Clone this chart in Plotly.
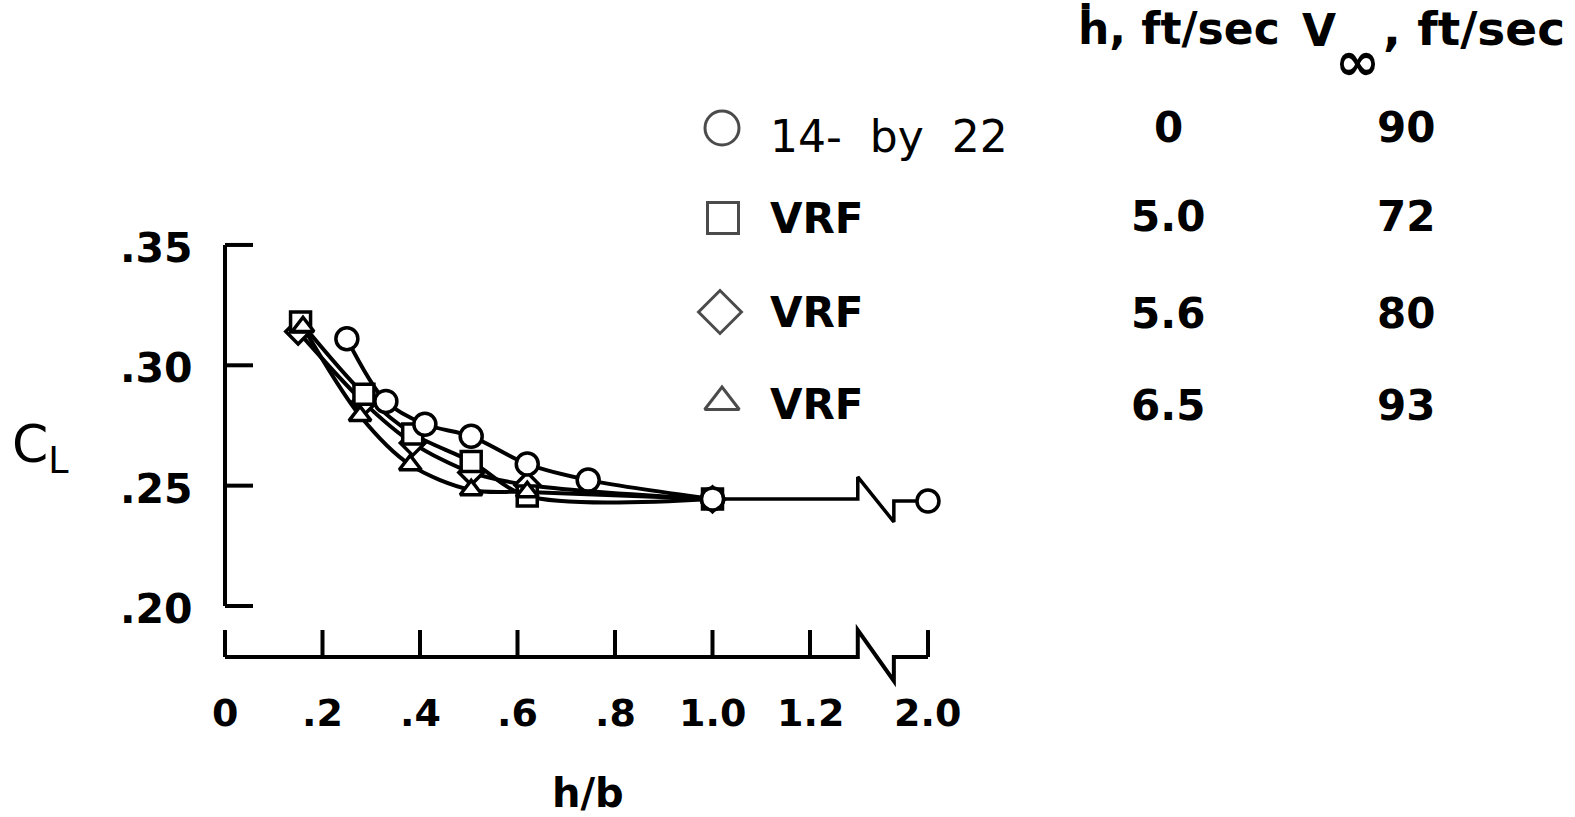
import plotly.graph_objects as go

W, H = 1575, 817

# ---- measured data: lift coefficient vs height/span ----
hb_circle = [0.25, 0.33, 0.41, 0.505, 0.62, 0.745, 1.0, 2.0]
cl_circle = [0.311, 0.285, 0.2755, 0.2705, 0.259, 0.2523, 0.2445, 0.2436]

hb_square = [0.155, 0.285, 0.385, 0.505, 0.62, 1.0]
cl_square = [0.318, 0.288, 0.2715, 0.260, 0.2457, 0.2445]

hb_diamond = [0.15, 0.285, 0.385, 0.505, 0.62, 1.0]
cl_diamond = [0.314, 0.2845, 0.2677, 0.2555, 0.2503, 0.2443]

hb_triangle = [0.16, 0.277, 0.38, 0.505, 0.62, 1.0]
cl_triangle = [0.316, 0.279, 0.2586, 0.2482, 0.2474, 0.2445]

# ---- axis ticks ----
x_ticks = [0, 0.2, 0.4, 0.6, 0.8, 1.0, 1.2, 2.0]
x_tick_text = ["0", ".2", ".4", ".6", ".8", "1.0", "1.2", "2.0"]
y_ticks = [0.20, 0.25, 0.30, 0.35]
y_tick_text = [".20", ".25", ".30", ".35"]

# ---- legend table ----
legend_names = ["14-&nbsp; by&nbsp; 22", "VRF", "VRF", "VRF"]
legend_hdot = ["0", "5.0", "5.6", "6.5"]
legend_vinf = ["90", "72", "80", "93"]
legend_symbols = ["circle", "square", "diamond", "triangle-up"]
legend_sizes = [34, 31, 33, 30]

# scale geometry (pixels per unit along each axis)
X0_PX, X_PER_UNIT = 225.0, 487.5
Y20_PX, Y_PER_UNIT = 606.0, 2407.0
U_TWO = 1.442                    # axis position where h/b = 2.0 is drawn
U_BRK0, U_BRK1 = 1.298, 1.372   # scale-break zig-zag span


def u(x):
    """Map h/b onto the broken horizontal axis."""
    return x if x <= 1.3 else U_TWO + (x - 2.0)


def px_to_y(py):
    return 0.20 + (Y20_PX - py) / Y_PER_UNIT


x_range = [(0 - X0_PX) / X_PER_UNIT, (W - X0_PX) / X_PER_UNIT]
y_range = [px_to_y(H), px_to_y(0)]

BLACK = "black"
FONT = "DejaVu Sans"
LW = 4


def txt_font(size):
    return dict(family=FONT, size=size, color=BLACK)


fig = go.Figure()

# faired curves
for xs, ys in [(hb_diamond, cl_diamond), (hb_square, cl_square),
               (hb_triangle, cl_triangle), (hb_circle[:-1], cl_circle[:-1])]:
    fig.add_trace(go.Scatter(
        x=[u(v) for v in xs], y=ys, mode="lines",
        line=dict(color=BLACK, width=LW, shape="spline", smoothing=0.9),
        hoverinfo="skip", showlegend=False))

# flat continuation of the 14- by 22 run across the scale break
yl, yr = cl_circle[-2], cl_circle[-1]
up = 22 / Y_PER_UNIT
dn = 23 / Y_PER_UNIT
fig.add_trace(go.Scatter(
    x=[u(hb_circle[-2]), U_BRK0, U_BRK0, U_BRK1, U_BRK1, u(hb_circle[-1])],
    y=[yl, yl, yl + up, yl - dn, yr, yr],
    mode="lines", line=dict(color=BLACK, width=3.5),
    hoverinfo="skip", showlegend=False))

# data symbols
marker_line = dict(color=BLACK, width=3.5)
for xs, ys, sym, sz in [(hb_diamond, cl_diamond, "diamond", 19),
                        (hb_square, cl_square, "square", 20),
                        (hb_triangle, cl_triangle, "triangle-up", 19),
                        (hb_circle, cl_circle, "circle", 22)]:
    fig.add_trace(go.Scatter(
        x=[u(v) for v in xs], y=ys, mode="markers",
        marker=dict(symbol=sym, size=sz, color="white", line=marker_line),
        showlegend=False))

shapes = []
annotations = []

# vertical axis with inward ticks
shapes.append(dict(type="line", xref="x", yref="y", x0=0, x1=0,
                   y0=y_ticks[0], y1=y_ticks[-1],
                   line=dict(color=BLACK, width=LW)))
tick_len_x = 28 / X_PER_UNIT
for yv, txt in zip(y_ticks, y_tick_text):
    shapes.append(dict(type="line", xref="x", yref="y", x0=0, x1=tick_len_x,
                       y0=yv, y1=yv, line=dict(color=BLACK, width=LW)))
    annotations.append(dict(x=-30 / X_PER_UNIT, y=yv - 3 / Y_PER_UNIT,
                            xref="x", yref="y",
                            text=f"<b>{txt}</b>", showarrow=False,
                            xanchor="right", yanchor="middle",
                            font=txt_font(41)))

# horizontal axis (drawn below the plot) with a scale break
y_axis_line = px_to_y(657)
y_tick_top = px_to_y(630)
y_brk_low = px_to_y(681)
shapes.append(dict(type="path", xref="x", yref="y",
                   path=(f"M 0,{y_axis_line} L {U_BRK0},{y_axis_line} "
                         f"L {U_BRK0},{y_tick_top} L {U_BRK1},{y_brk_low} "
                         f"L {U_BRK1},{y_axis_line} L {U_TWO},{y_axis_line}"),
                   line=dict(color=BLACK, width=LW)))
for xv, txt in zip(x_ticks, x_tick_text):
    shapes.append(dict(type="line", xref="x", yref="y", x0=u(xv), x1=u(xv),
                       y0=y_axis_line, y1=y_tick_top,
                       line=dict(color=BLACK, width=LW)))
    annotations.append(dict(x=u(xv), y=px_to_y(713), xref="x", yref="y",
                            text=f"<b>{txt}</b>", showarrow=False,
                            xanchor="center", yanchor="middle",
                            font=txt_font(38)))

# axis titles
annotations.append(dict(x=588 / W, y=0, xref="paper", yref="paper",
                        text="<b>h/b</b>", showarrow=False, borderpad=0,
                        xanchor="center", yanchor="bottom", font=txt_font(40)))
annotations.append(dict(x=10 / W, y=1 - 448 / H, xref="paper", yref="paper",
                        text="C<sub>L</sub>", showarrow=False,
                        xanchor="left", yanchor="middle", font=txt_font(52)))

# legend table header
annotations.append(dict(x=1076 / W, y=1 - 28 / H, xref="paper", yref="paper",
                        text="<b>ḣ, ft/sec</b>", showarrow=False,
                        xanchor="left", yanchor="middle", font=txt_font(44)))
annotations.append(dict(x=1300 / W, y=1 - 30 / H, xref="paper", yref="paper",
                        text="<b>V</b>", showarrow=False,
                        xanchor="left", yanchor="middle", font=txt_font(44)))
annotations.append(dict(x=1357 / W, y=1 - 61 / H, xref="paper", yref="paper",
                        text="<b>∞</b>", showarrow=False,
                        xanchor="center", yanchor="middle", font=txt_font(54)))
annotations.append(dict(x=1567 / W, y=1 - 28 / H, xref="paper", yref="paper",
                        text="<b>, ft/sec</b>", showarrow=False,
                        xanchor="right", yanchor="middle", font=txt_font(47)))

row_y = [136, 218, 312, 404]
num_y = [128, 216, 313, 405]
for i, name in enumerate(legend_names):
    label = name if i == 0 else f"<b>{name}</b>"
    annotations.append(dict(x=768 / W, y=1 - row_y[i] / H,
                            xref="paper", yref="paper",
                            text=label, showarrow=False,
                            xanchor="left", yanchor="middle",
                            font=txt_font(44 if i == 0 else 42)))
    annotations.append(dict(x=1168 / W, y=1 - num_y[i] / H,
                            xref="paper", yref="paper",
                            text=f"<b>{legend_hdot[i]}</b>", showarrow=False,
                            xanchor="center", yanchor="middle",
                            font=txt_font(42)))
    annotations.append(dict(x=1406 / W, y=1 - num_y[i] / H,
                            xref="paper", yref="paper",
                            text=f"<b>{legend_vinf[i]}</b>", showarrow=False,
                            xanchor="center", yanchor="middle",
                            font=txt_font(42)))

# legend symbols on a pixel-space overlay axis pair
leg_sym_x = [722, 723, 720, 722]
leg_sym_y = [128, 218, 312, 402]
fig.add_trace(go.Scatter(
    x=leg_sym_x, y=leg_sym_y, xaxis="x2", yaxis="y2",
    mode="markers",
    marker=dict(symbol=legend_symbols, size=legend_sizes, color="white",
                line=dict(color=BLACK, width=3)),
    hoverinfo="skip", showlegend=False))

fig.update_layout(
    width=W, height=H,
    margin=dict(l=0, r=0, t=0, b=0),
    paper_bgcolor="white", plot_bgcolor="white",
    xaxis=dict(range=x_range, visible=False, fixedrange=True),
    yaxis=dict(range=y_range, visible=False, fixedrange=True),
    xaxis2=dict(range=[0, W], visible=False, overlaying="x", fixedrange=True),
    yaxis2=dict(range=[H, 0], visible=False, overlaying="y", fixedrange=True),
    shapes=shapes,
    annotations=annotations,
    showlegend=False,
)

fig.write_html("out.html")
